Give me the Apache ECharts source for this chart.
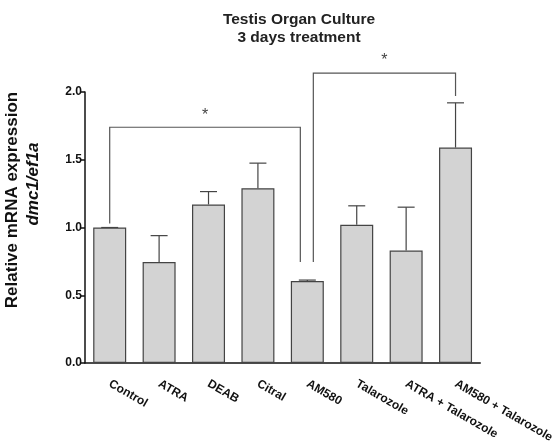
<!DOCTYPE html>
<html>
<head>
<meta charset="utf-8">
<script src="https://cdn.jsdelivr.net/npm/echarts@6/dist/echarts.min.js"></script>
<style>html,body{margin:0;padding:0;background:#fff}#c{width:557px;height:448px}</style>
</head>
<body>
<div id="c"></div>
<script>
var categories = ['Control','ATRA','DEAB','Citral','AM580','Talarozole','ATRA + Talarozole','AM580 + Talarozole'];
var means = [1.00, 0.745, 1.17, 1.29, 0.605, 1.02, 0.83, 1.59];
var upperErr = [1.00, 0.94, 1.265, 1.475, 0.612, 1.16, 1.15, 1.92];
var yTicks = [0, 0.5, 1.0, 1.5, 2.0];
// brackets: [fromIndex, toIndex, topValue, leftFootValue, rightFootValue, label]
var brackets = [
  [0, 4, 1.74, 1.03, 0.745, '*'],
  [4, 7, 2.14, 0.745, 1.97, '*']
];

var chart = echarts.init(document.getElementById('c'));
var font = 'Liberation Sans, Arial, sans-serif';
chart.setOption({
  animation: false,
  title: {
    text: 'Testis Organ Culture\n3 days treatment',
    left: 294, top: 6, textAlign: 'center',
    textStyle: {fontFamily: font, fontSize: 15.5, fontWeight: 'bold', color: '#222', lineHeight: 18}
  },
  graphic: [
    {type: 'text', x: 12, y: 200, rotation: Math.PI/2, style: {text: 'Relative mRNA expression', font: 'bold 17px ' + font, fill: '#111', textAlign: 'center', textVerticalAlign: 'middle'}},
    {type: 'text', x: 33, y: 184, rotation: Math.PI/2, style: {text: 'dmc1/ef1a', font: 'italic bold 17px ' + font, fill: '#111', textAlign: 'center', textVerticalAlign: 'middle'}}
  ],
  grid: {left: 85, right: 75, top: 92, bottom: 85},
  xAxis: {
    type: 'category', data: categories,
    axisLine: {lineStyle: {color: '#111', width: 1.5}},
    axisTick: {alignWithLabel: true, length: 6, lineStyle: {color: '#111', width: 1.5}},
    axisLabel: {rotate: -30, fontFamily: font, fontWeight: 'bold', fontSize: 12, color: '#111', interval: 0, margin: 20}
  },
  yAxis: {
    type: 'value', min: 0, max: 2, interval: 0.5,
    axisLine: {show: true, lineStyle: {color: '#111', width: 1.5}},
    axisTick: {show: true, length: 5, lineStyle: {color: '#111', width: 1.5}},
    splitLine: {show: false},
    axisLabel: {fontFamily: font, fontWeight: 'bold', fontSize: 12, color: '#111', margin: 3,
      formatter: function(v){ return yTicks.indexOf(v) >= 0 ? v.toFixed(1) : ''; }}
  },
  series: [
    {
      type: 'bar', data: means, barWidth: 33,
      itemStyle: {color: '#d3d3d3', borderColor: '#444', borderWidth: 1.2}
    },
    {
      type: 'custom', clip: false, z: 1,
      data: categories.map(function(c, i){ return [i, means[i], upperErr[i]]; }),
      renderItem: function(params, api){
        var x = api.value(0);
        var p0 = api.coord([x, api.value(1)]);
        var p1 = api.coord([x, api.value(2)]);
        var hw = 8.5;
        return {type: 'group', children: [
          {type: 'line', shape: {x1: p0[0], y1: p0[1], x2: p1[0], y2: p1[1]}, style: {stroke: '#444', lineWidth: 1.2}},
          {type: 'line', shape: {x1: p1[0]-hw, y1: p1[1], x2: p1[0]+hw, y2: p1[1]}, style: {stroke: '#444', lineWidth: 1.2}}
        ]};
      }
    },
    {
      type: 'custom', clip: false, z: 3,
      data: brackets.map(function(b){ return [b[0], b[1], b[2], b[3], b[4]]; }),
      renderItem: function(params, api){
        var i = params.dataIndex;
        var a = api.coord([api.value(0), api.value(3)]);
        var b = api.coord([api.value(1), api.value(4)]);
        var top = api.coord([api.value(0), api.value(2)])[1];
        var ax = a[0], bx = b[0];
        if (i === 0) bx -= 7; else ax += 6;
        return {type: 'group', children: [
          {type: 'polyline', shape: {points: [[ax, a[1]], [ax, top], [bx, top], [bx, b[1]]]}, style: {stroke: '#555', lineWidth: 1.2, fill: null}},
          {type: 'text', x: (ax+bx)/2, y: top - 12, style: {text: brackets[i][5], font: '16px ' + font, fill: '#444', textAlign: 'center', textVerticalAlign: 'middle'}}
        ]};
      }
    }
  ]
});
</script>
</body>
</html>
